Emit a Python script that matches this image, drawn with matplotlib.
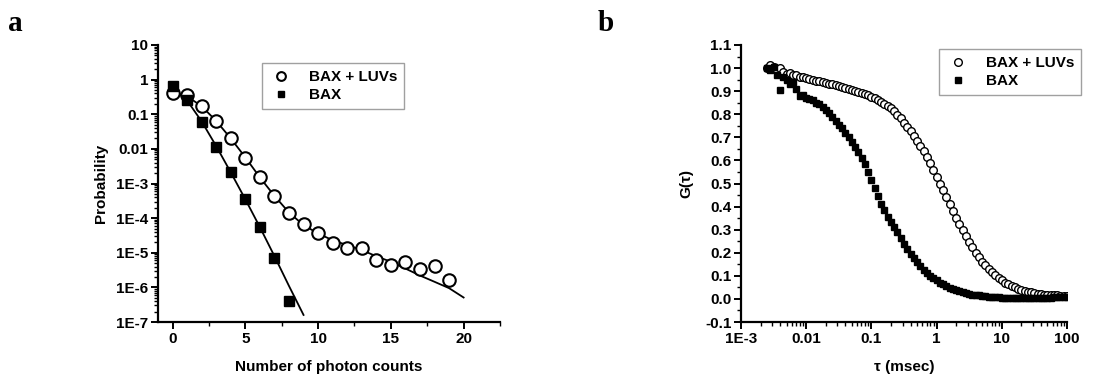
import matplotlib
matplotlib.use("Agg")
import matplotlib.pyplot as plt
from matplotlib.ticker import FixedLocator, LogLocator, MultipleLocator, NullFormatter

plt.rcParams['font.family'] = ['Liberation Sans', 'DejaVu Sans']
plt.rcParams['font.weight'] = 'bold'
plt.rcParams['axes.labelweight'] = 'bold'

# ---- panel a: photon counting histogram ----
counts_luv = list(range(0, 20))
prob_luv = [0.40, 0.35, 0.17, 0.062, 0.020, 0.0056, 0.0015, 4.4e-4, 1.4e-4, 6.6e-5,
            3.6e-5, 1.9e-5, 1.4e-5, 1.4e-5, 6.1e-6, 4.4e-6, 5.5e-6, 3.3e-6, 4.2e-6, 1.6e-6]
counts_bax = list(range(0, 9))
prob_bax = [0.65, 0.26, 0.060, 0.0114, 0.0022, 3.5e-4, 5.6e-5, 7.2e-6, 4.1e-7]

fit_luv_x = list(range(0, 21))
fit_luv_y = [0.45, 0.33, 0.17, 0.064, 0.020, 0.0057, 0.0015, 4.4e-4, 1.45e-4, 6.3e-5,
             3.6e-5, 2.3e-5, 1.66e-5, 1.2e-5, 7.9e-6, 5.5e-6, 3.5e-6, 2.2e-6, 1.45e-6,
             9.5e-7, 5.1e-7]
fit_bax_x = list(range(0, 10))
fit_bax_y = [0.55, 0.25, 0.062, 0.012, 0.0021, 3.5e-4, 5.5e-5, 8.0e-6, 1.1e-6, 1.6e-7]

# ---- panel b: autocorrelation curves ----
tau = [0.00251, 0.00282, 0.00316, 0.00355, 0.00398, 0.00447, 0.00501, 0.00562, 0.00631, 0.00708,
       0.00794, 0.00891, 0.0100, 0.0112, 0.0126, 0.0141, 0.0158, 0.0178, 0.0200, 0.0224,
       0.0251, 0.0282, 0.0316, 0.0355, 0.0398, 0.0447, 0.0501, 0.0562, 0.0631, 0.0708,
       0.0794, 0.0891, 0.100, 0.112, 0.126, 0.141, 0.158, 0.178, 0.200, 0.224,
       0.251, 0.282, 0.316, 0.355, 0.398, 0.447, 0.501, 0.562, 0.631, 0.708,
       0.794, 0.891, 1.00, 1.12, 1.26, 1.41, 1.58, 1.78, 2.00, 2.24,
       2.51, 2.82, 3.16, 3.55, 3.98, 4.47, 5.01, 5.62, 6.31, 7.08,
       7.94, 8.91, 10.0, 11.2, 12.6, 14.1, 15.8, 17.8, 20.0, 22.4,
       25.1, 28.2, 31.6, 35.5, 39.8, 44.7, 50.1, 56.2, 63.1, 70.8,
       79.4, 89.1, 100.0]
g_luv = [1.00, 1.015, 1.005, 0.99, 1.0, 0.983, 0.975, 0.978, 0.968, 0.97,
         0.962, 0.96, 0.955, 0.953, 0.95, 0.946, 0.944, 0.94, 0.936, 0.933,
         0.929, 0.925, 0.921, 0.917, 0.913, 0.909, 0.905, 0.901, 0.897, 0.892,
         0.887, 0.882, 0.876, 0.870, 0.863, 0.855, 0.846, 0.836, 0.825, 0.812,
         0.798, 0.782, 0.764, 0.745, 0.727, 0.707, 0.686, 0.664, 0.640, 0.615,
         0.588, 0.560, 0.530, 0.500, 0.470, 0.440, 0.410, 0.381, 0.352, 0.324,
         0.297, 0.271, 0.246, 0.223, 0.201, 0.181, 0.162, 0.145, 0.129, 0.115,
         0.102, 0.090, 0.080, 0.071, 0.063, 0.056, 0.050, 0.044, 0.039, 0.035,
         0.031, 0.028, 0.025, 0.023, 0.021, 0.019, 0.018, 0.017, 0.016, 0.015,
         0.014, 0.014, 0.013]
g_bax = [1.00, 0.99, 1.005, 0.97, 0.905, 0.96, 0.95, 0.93, 0.94, 0.91,
         0.88, 0.885, 0.87, 0.865, 0.86, 0.85, 0.845, 0.83, 0.82, 0.805,
         0.79, 0.77, 0.755, 0.74, 0.72, 0.70, 0.68, 0.66, 0.635, 0.61,
         0.585, 0.55, 0.515, 0.48, 0.445, 0.41, 0.385, 0.355, 0.335, 0.31,
         0.29, 0.265, 0.24, 0.218, 0.196, 0.176, 0.158, 0.142, 0.127, 0.113,
         0.101, 0.090, 0.080, 0.071, 0.063, 0.056, 0.049, 0.043, 0.038, 0.033,
         0.029, 0.025, 0.022, 0.019, 0.017, 0.015, 0.013, 0.011, 0.010, 0.009,
         0.008, 0.007, 0.006, 0.006, 0.005, 0.005, 0.005, 0.004, 0.004, 0.004,
         0.004, 0.004, 0.004, 0.005, 0.005, 0.005, 0.006, 0.006, 0.007, 0.007,
         0.008, 0.008, 0.009]

labels = ['BAX + LUVs', 'BAX']
FS = 11

fig = plt.figure(figsize=(11.07, 3.77), dpi=100)
ax1 = fig.add_axes([158 / 1107, 55 / 377, 342 / 1107, 277 / 377])
ax2 = fig.add_axes([741 / 1107, 55 / 377, 326 / 1107, 277 / 377])


def style_axes(ax):
    for side in ['top', 'right']:
        ax.spines[side].set_visible(False)
    for side in ['left', 'bottom']:
        ax.spines[side].set_linewidth(1.6)
    ax.tick_params(which='major', direction='out', length=5, width=1.4, labelsize=FS, pad=2)
    ax.tick_params(which='minor', direction='out', length=3, width=1.0)
    for lab in ax.get_xticklabels() + ax.get_yticklabels():
        lab.set_fontweight('bold')


def add_legend(ax, handles, x0, y0, mscale):
    leg = ax.legend(handles, labels, loc='upper left', bbox_to_anchor=(x0 / 1107, 1 - y0 / 377),
                    bbox_transform=fig.transFigure, frameon=True, fancybox=False,
                    prop={'weight': 'bold', 'size': FS}, handletextpad=1.0, borderpad=0.45,
                    labelspacing=0.3, markerscale=mscale, handlelength=1.6, borderaxespad=0)
    leg.get_frame().set_edgecolor('#888888')
    leg.get_frame().set_linewidth(1.0)
    return leg


# panel a
ax1.plot(fit_luv_x, fit_luv_y, color='black', lw=1.3)
ax1.plot(fit_bax_x, fit_bax_y, color='black', lw=1.3)
h1, = ax1.plot(counts_luv, prob_luv, 'o', ms=9, mfc='white', mec='black', mew=1.5, ls='none')
h2, = ax1.plot(counts_bax, prob_bax, 's', ms=6.5, color='black', ls='none')
ax1.set_yscale('log')
ax1.set_xlim(-1, 22.5)
ax1.set_ylim(1e-7, 10)
ax1.xaxis.set_major_locator(FixedLocator([0, 5, 10, 15, 20]))
ax1.xaxis.set_minor_locator(MultipleLocator(2.5))
ax1.yaxis.set_minor_locator(LogLocator(base=10, subs=range(2, 10), numticks=20))
ax1.yaxis.set_minor_formatter(NullFormatter())
ax1.set_yticks([1e-7, 1e-6, 1e-5, 1e-4, 1e-3, 1e-2, 1e-1, 1, 10])
ax1.set_yticklabels(['1E-7', '1E-6', '1E-5', '1E-4', '1E-3', '0.01', '0.1', '1', '10'])
ax1.set_xlabel('Number of photon counts', fontsize=FS, fontweight='bold', labelpad=10)
ax1.set_ylabel('Probability', fontsize=FS, fontweight='bold', labelpad=6)
style_axes(ax1)
add_legend(ax1, [h1, h2], 262, 63, 0.7)

# panel b
g1, = ax2.plot(tau, g_luv, 'o', ms=5.5, mfc='white', mec='black', mew=1.0, ls='none')
g2, = ax2.plot(tau, g_bax, 's', ms=4, color='black', ls='none')
ax2.set_xscale('log')
ax2.set_xlim(1e-3, 100)
ax2.set_ylim(-0.1, 1.1)
ax2.set_xticks([1e-3, 1e-2, 1e-1, 1, 10, 100])
ax2.set_xticklabels(['1E-3', '0.01', '0.1', '1', '10', '100'])
ax2.xaxis.set_minor_locator(LogLocator(base=10, subs=range(2, 10), numticks=20))
ax2.xaxis.set_minor_formatter(NullFormatter())
ax2.yaxis.set_major_locator(MultipleLocator(0.1))
ax2.yaxis.set_minor_locator(MultipleLocator(0.05))
ax2.yaxis.set_major_formatter(plt.FuncFormatter(lambda v, p: '%.1f' % v))
ax2.set_xlabel('τ (msec)', fontsize=FS, fontweight='bold', labelpad=10)
ax2.set_ylabel('G(τ)', fontsize=FS, fontweight='bold', labelpad=8)
style_axes(ax2)
add_legend(ax2, [g1, g2], 939, 49, 1.0)

# panel letters
fig.text(8 / 1107, 1 - 31 / 377, 'a', family='Liberation Serif', fontweight='bold', fontsize=21)
fig.text(598 / 1107, 1 - 31 / 377, 'b', family='Liberation Serif', fontweight='bold', fontsize=21)

fig.savefig('out.png', dpi=100)
